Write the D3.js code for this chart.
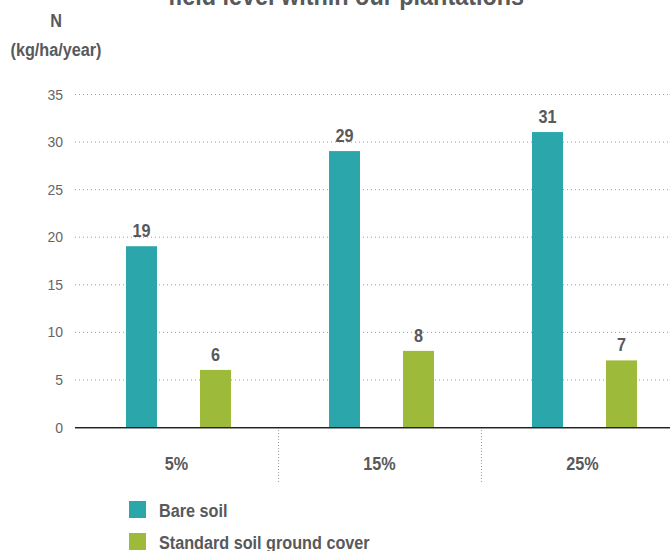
<!DOCTYPE html>
<html>
<head>
<meta charset="utf-8">
<script src="https://cdn.jsdelivr.net/npm/d3@7"></script>
<style>
  html, body { margin: 0; padding: 0; background: #fff; }
  svg { display: block; }
  text { font-family: "Liberation Sans", Arial, sans-serif; }
</style>
</head>
<body>
<svg id="chart" width="670" height="551"></svg>
<script>
// Nitrogen loss by slope, bare soil vs. standard ground cover
const categories = ["5%", "15%", "25%"];
const seriesNames = ["Bare soil", "Standard soil ground cover"];
const bareSoil = [19, 29, 31];
const groundCover = [6, 8, 7];
const yTicks = [0, 5, 10, 15, 20, 25, 30, 35];
const colors = ["#2ba6aa", "#9dba3a"];

const titleText = "field level within our plantations";
const yUnitLines = ["N", "(kg/ha/year)"];

const svg = d3.select("#chart");
const textColor = "#58595b";
const CONDENSE = 0.9;

// squeeze bold labels horizontally for a condensed look
function condense(sel, k = CONDENSE) {
  sel.each(function () {
    const len = this.getComputedTextLength();
    d3.select(this)
      .attr("textLength", len * k)
      .attr("lengthAdjust", "spacingAndGlyphs");
  });
}

const plot = { left: 75, right: 684, top: 94, bottom: 427 };

const x0 = d3.scaleBand()
  .domain(categories)
  .range([plot.left, plot.right]);

// two bars per group, 31px wide on a 74px step
const x1 = d3.scaleBand()
  .domain(seriesNames)
  .range([51, 156])
  .paddingInner(0.58)
  .paddingOuter(0);

const y = d3.scaleLinear().domain([0, 35]).range([plot.bottom, plot.top]);

// title (second line of a two-line heading)
svg.append("text")
  .attr("x", 346).attr("y", 5)
  .attr("text-anchor", "middle")
  .attr("font-size", 26).attr("font-weight", "bold")
  .attr("fill", textColor)
  .text(titleText)
  .call(condense);

// unit label
svg.append("g").selectAll("text")
  .data(yUnitLines)
  .join("text")
  .attr("x", 56)
  .attr("y", (d, i) => 27 + i * 29)
  .attr("text-anchor", "middle")
  .attr("font-size", 18).attr("font-weight", "bold")
  .attr("fill", textColor)
  .text(d => d)
  .call(condense);

// horizontal dotted grid + y labels
const yAxis = d3.axisLeft(y)
  .tickValues(yTicks)
  .tickSize(-(plot.right - plot.left))
  .tickPadding(12)
  .tickFormat(d3.format("d"));

const gy = svg.append("g")
  .attr("transform", `translate(${plot.left},0)`)
  .call(yAxis);
gy.select(".domain").remove();
gy.selectAll(".tick line")
  .attr("stroke", "#9a9a9a")
  .attr("stroke-width", 1)
  .attr("stroke-dasharray", "1,3")
  .filter(d => d === 0).remove();
gy.selectAll(".tick text")
  .attr("font-family", "'Liberation Sans', Arial, sans-serif")
  .attr("font-size", 14)
  .attr("fill", "#666")
  .attr("dy", "0.36em");

// vertical dotted separators between categories
svg.append("g").selectAll("line")
  .data(categories.slice(1))
  .join("line")
  .attr("x1", d => Math.round(x0(d)) + 0.5)
  .attr("x2", d => Math.round(x0(d)) + 0.5)
  .attr("y1", plot.bottom + 3)
  .attr("y2", 482)
  .attr("stroke", "#9a9a9a")
  .attr("stroke-dasharray", "1,2");

// bars
const rows = categories.map((c, i) => ({ cat: c, values: [bareSoil[i], groundCover[i]] }));
const toItems = d => d.values.map((v, k) => ({ name: seriesNames[k], value: v, k }));

const groups = svg.append("g").selectAll("g")
  .data(rows)
  .join("g")
  .attr("transform", d => `translate(${Math.round(x0(d.cat))},0)`);

groups.selectAll("rect")
  .data(toItems)
  .join("rect")
  .attr("x", d => Math.round(x1(d.name)))
  .attr("width", Math.round(x1.bandwidth()))
  .attr("y", d => y(d.value))
  .attr("height", d => y(0) - y(d.value))
  .attr("fill", d => colors[d.k]);

groups.selectAll("text.val")
  .data(toItems)
  .join("text")
  .attr("class", "val")
  .attr("x", d => Math.round(x1(d.name)) + Math.round(x1.bandwidth()) / 2)
  .attr("y", d => y(d.value) - 9)
  .attr("text-anchor", "middle")
  .attr("font-size", 18).attr("font-weight", "bold")
  .attr("fill", textColor)
  .text(d => d.value)
  .call(condense);

// baseline
svg.append("line")
  .attr("x1", plot.left).attr("x2", plot.right)
  .attr("y1", plot.bottom + 0.5).attr("y2", plot.bottom + 0.5)
  .attr("stroke", "#222");
svg.append("line")
  .attr("x1", plot.left).attr("x2", plot.right)
  .attr("y1", plot.bottom + 1.5).attr("y2", plot.bottom + 1.5)
  .attr("stroke", "#999");

// category labels
svg.append("g").selectAll("text")
  .data(categories)
  .join("text")
  .attr("x", d => x0(d) + x0.bandwidth() / 2)
  .attr("y", 470)
  .attr("text-anchor", "middle")
  .attr("font-size", 18).attr("font-weight", "bold")
  .attr("fill", textColor)
  .text(d => d)
  .call(condense);

// legend
const legend = svg.append("g").selectAll("g")
  .data(seriesNames)
  .join("g")
  .attr("transform", (d, i) => `translate(129,${501 + i * 32})`);
legend.append("rect")
  .attr("width", 17).attr("height", 17)
  .attr("fill", (d, i) => colors[i]);
legend.append("text")
  .attr("x", 30).attr("y", 16)
  .attr("font-size", 18).attr("font-weight", "bold")
  .attr("fill", textColor)
  .text(d => d)
  .call(condense);
</script>
</body>
</html>
